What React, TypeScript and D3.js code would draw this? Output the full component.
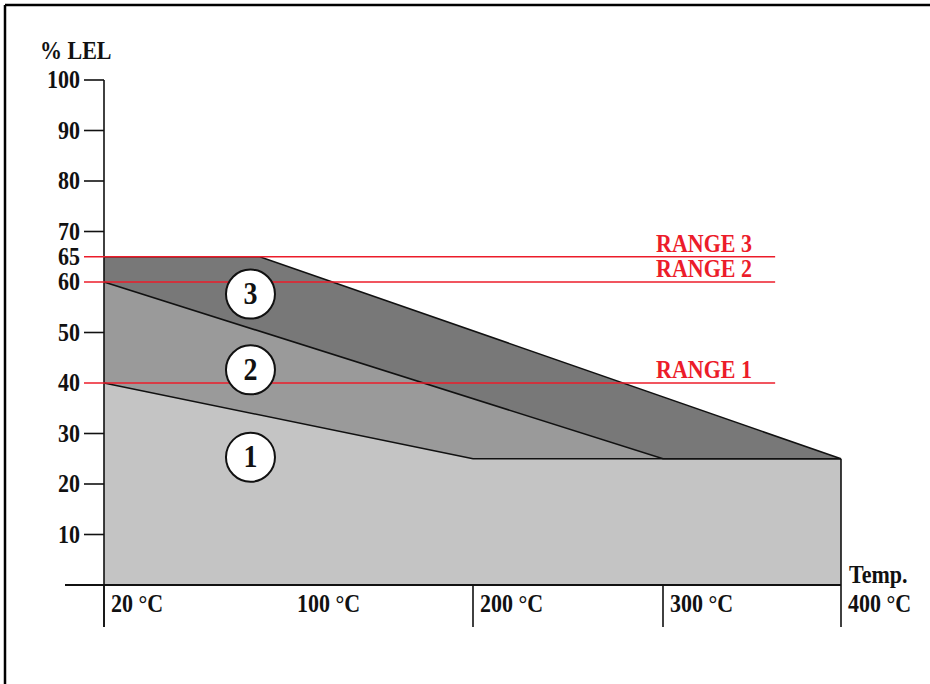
import React, { useEffect } from "react";
import * as d3 from "d3";

// ---- data ----
const yTickValues = [10, 20, 30, 40, 50, 60, 65, 70, 80, 90, 100];
const xScaleTemps = [20, 100, 200, 300, 400];
const xTickLabels = ["20 °C", "100 °C", "200 °C", "300 °C", "400 °C"];
const xTickLines = [20, 200, 300, 400];

// zone top boundaries [temperature, %LEL]
const zone1Top: [number, number][] = [[20, 40], [200, 25], [400, 25]];
const zone2Top: [number, number][] = [[20, 60], [300, 25], [400, 25]];
const zone3Top: [number, number][] = [[20, 65], [87, 65], [400, 25]];

const rangeNames = ["RANGE 1", "RANGE 2", "RANGE 3"];
const rangeValues = [40, 60, 65];
const rangeEndTemp = 363;

const zoneNumbers = ["1", "2", "3"];
const zoneLabelTemp = [83, 83, 83];
const zoneLabelLEL = [25.3, 42.6, 57.6];

const zoneColors = ["#c4c4c4", "#9a9a9a", "#787878"];

const font = "'Liberation Serif', 'Times New Roman', serif";

function T(props: { x: number; y: number; anchor?: string; size?: number; fill?: string; children: React.ReactNode; dy?: string }) {
  const { x, y, anchor = "start", size = 22, fill = "#111", children, dy } = props;
  return (
    <text transform={`translate(${x},${y}) scale(1,1.12)`} textAnchor={anchor} fontSize={size} fill={fill} dy={dy}>
      {children}
    </text>
  );
}

export default function App() {
  useEffect(() => {
    document.body.style.margin = "0";
    document.body.style.overflow = "hidden";
  }, []);
  const W = 930, H = 684;
  const x = d3.scaleLinear().domain(xScaleTemps).range([104, 290, 473, 663, 841]);
  const y = d3.scaleLinear().domain([0, 100]).range([585, 80]);
  const area = (top: [number, number][]) =>
    d3.area<[number, number]>().x((d) => x(d[0])).y0(y(0)).y1((d) => y(d[1]))(top) || "";
  const line = (top: [number, number][]) =>
    d3.line<[number, number]>().x((d) => x(d[0])).y((d) => y(d[1]))(top) || "";
  const red = "#ec1c2a";
  const zones = [zone1Top, zone2Top, zone3Top];

  return (
    <svg width={W} height={H} style={{ position: "absolute", left: 0, top: 0, background: "#fff", display: "block" }}
      fontFamily={font} fontWeight="bold">
      {/* frame */}
      <line x1={5} y1={5} x2={W} y2={5} stroke="#000" strokeWidth={2.5} />
      <line x1={5} y1={5} x2={5} y2={H} stroke="#000" strokeWidth={2.5} />

      {/* zones, drawn back to front */}
      {[2, 1, 0].map((i) => (
        <path key={"a" + i} d={area(zones[i])} fill={zoneColors[i]} />
      ))}
      {[2, 1, 0].map((i) => (
        <path key={"l" + i} d={line(zones[i])} fill="none" stroke="#111" strokeWidth={1.6} />
      ))}

      {/* axes */}
      <line x1={104} y1={y(100)} x2={104} y2={627} stroke="#111" strokeWidth={1.6} />
      <line x1={65} y1={y(0)} x2={x(400)} y2={y(0)} stroke="#111" strokeWidth={1.8} />
      {xTickLines.map((t) => (
        <line key={"xl" + t} x1={x(t)} x2={x(t)} y1={t === 400 ? y(25) : y(0)} y2={627}
          stroke="#111" strokeWidth={1.6} />
      ))}

      {/* y ticks */}
      {yTickValues.map((v) => (
        <g key={"yt" + v}>
          {!rangeValues.includes(v) && (
            <line x1={84} x2={104} y1={y(v)} y2={y(v)} stroke="#111" strokeWidth={1.6} />
          )}
          <T x={80} y={y(v) + 8} anchor="end">{v}</T>
        </g>
      ))}
      <T x={40} y={59}>% LEL</T>

      {/* x labels */}
      {xScaleTemps.map((t, i) => (
        <T key={"xt" + t} x={x(t) + 7} y={612}>{xTickLabels[i]}</T>
      ))}
      <T x={x(400) + 8} y={583}>Temp.</T>

      {/* ranges */}
      {rangeValues.map((v, i) => (
        <g key={"r" + v}>
          <line x1={84} x2={x(rangeEndTemp)} y1={y(v)} y2={y(v)} stroke={red} strokeWidth={1.6} />
          <T x={752} y={y(v) - 5} anchor="end" fill={red}>{rangeNames[i]}</T>
        </g>
      ))}

      {/* zone labels */}
      {zoneNumbers.map((n, i) => (
        <g key={"z" + n} transform={`translate(${x(zoneLabelTemp[i])},${y(zoneLabelLEL[i])})`}>
          <circle r={24.5} fill="#fff" stroke="#111" strokeWidth={2} />
          <T x={0} y={10} anchor="middle" size={28}>{n}</T>
        </g>
      ))}
    </svg>
  );
}
